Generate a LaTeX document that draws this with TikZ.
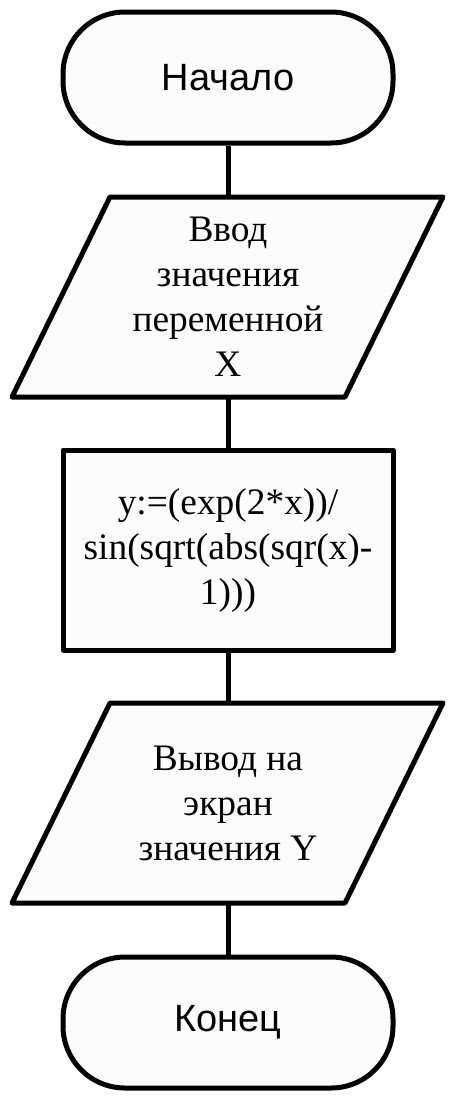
\documentclass[tikz,border=0pt]{standalone}
\usepackage{fontspec}
\setmainfont{Liberation Serif}
\newfontfamily\lsans{Liberation Sans}
\begin{document}
\begin{tikzpicture}[x=1pt,y=-1pt,
  shapeline/.style={line width=5pt, line join=round, draw=black, fill=black!1},
  term/.style={shapeline, rectangle, rounded corners=62pt, minimum width=330pt, minimum height=131pt, inner sep=0pt, font=\lsans\fontsize{38}{44}\selectfont},
  iobox/.style={rectangle, minimum width=333pt, minimum height=200pt, inner sep=0pt, align=center, font=\fontsize{37.4}{45}\selectfont},
  procbox/.style={shapeline, rectangle, minimum width=330pt, minimum height=200pt, inner sep=0pt, align=center, font=\fontsize{37.4}{45}\selectfont},
  conn/.style={line width=5pt}]
\useasboundingbox (0,0) rectangle (454,1100);
% input parallelogram
\draw[shapeline] (110,197) -- (443,197) -- (345,397) -- (12,397) -- cycle;
% output parallelogram
\draw[shapeline] (110,703) -- (443,703) -- (345,903) -- (12,903) -- cycle;
\node[term] (start) at (228,77.5) {Начало};
\node[iobox] (in) at (228,297) {Ввод\\значения\\переменной\\X};
\node[procbox] (proc) at (228,550) {y:=(exp(2*x))/\\sin(sqrt(abs(sqr(x)-\\1)))};
\node[iobox] (out) at (228,803) {Вывод на\\экран\\значения Y};
\node[term] (stop) at (228,1022.5) {Конец};
\draw[conn] (start) -- (in);
\draw[conn] (in) -- (proc);
\draw[conn] (proc) -- (out);
\draw[conn] (out) -- (stop);
\end{tikzpicture}
\end{document}
